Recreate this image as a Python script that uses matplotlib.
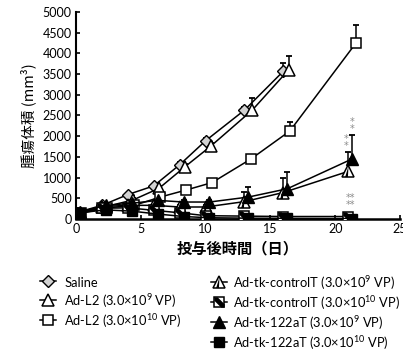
import matplotlib.pyplot as plt
import numpy as np

plt.rcParams['font.family'] = ['Lato', 'Noto Sans CJK JP', 'DejaVu Sans']
plt.rcParams['mathtext.fontset'] = 'custom'
plt.rcParams['mathtext.rm'] = 'Lato'

# data (days after injection, tumour volume mm3, upper error)
x_saline = [0, 2, 4, 6, 8, 10, 13, 16]
y_saline = [150, 330, 590, 800, 1310, 1890, 2630, 3570]
e_saline = [0, 20, 40, 50, 60, 60, 80, 200]

x_l2_9 = [0.3, 2.3, 4.4, 6.4, 8.4, 10.4, 13.6, 16.4]
y_l2_9 = [140, 300, 460, 740, 1260, 1760, 2630, 3600]
e_l2_9 = [0, 20, 40, 60, 60, 80, 290, 340]

x_l2_10 = [0.4, 2.4, 4.5, 6.5, 8.5, 10.5, 13.5, 16.5, 21.6]
y_l2_10 = [140, 270, 330, 530, 700, 880, 1450, 2125, 4250]
e_l2_10 = [0, 20, 30, 40, 50, 60, 60, 215, 440]

x_ct_9 = [0, 2, 4, 6, 8, 10, 13, 16, 21]
y_ct_9 = [150, 300, 330, 330, 290, 290, 420, 640, 1150]
e_ct_9 = [0, 20, 30, 40, 40, 40, 230, 350, 470]

x_ct_10 = [0, 2, 4, 6, 8, 10, 13, 16, 21]
y_ct_10 = [150, 260, 270, 210, 150, 80, 70, 60, 60]

x_aT_9 = [0.3, 2.3, 4.3, 6.3, 8.3, 10.3, 13.3, 16.3, 21.3]
y_aT_9 = [170, 330, 380, 450, 410, 410, 530, 730, 1450]
e_aT_9 = [0, 20, 30, 40, 40, 40, 240, 410, 580]

x_aT_10 = [0.3, 2.3, 4.3, 6.3, 8.3, 10.3, 13.3, 16.3, 21.3]
y_aT_10 = [150, 220, 190, 120, 60, 30, 20, 15, 10]

labels = ['Saline',
          'Ad-L2 (3.0×10$^{9}$ VP)',
          'Ad-L2 (3.0×10$^{10}$ VP)',
          'Ad-tk-controlT (3.0×10$^{9}$ VP)',
          'Ad-tk-controlT (3.0×10$^{10}$ VP)',
          'Ad-tk-122aT (3.0×10$^{9}$ VP)',
          'Ad-tk-122aT (3.0×10$^{10}$ VP)']

# diagonal stripe markers for the "controlT" groups
sq_band = [(-1, 1), (-0.35, 1), (1, -0.35), (1, -1), (0.35, -1), (-1, 0.35), (-1, 1)]
tri_band = [(0, 1), (-0.6, -1), (-0.1, -1), (0, 1)]

fig = plt.figure(figsize=(4.03, 3.6), dpi=100)
ax = fig.add_axes([76/403, 1 - 219/360, 324/403, 207/360])

lw = 1.1
ms = 7.5

def errs(x, y, e, z):
    ax.errorbar(x, y, yerr=[np.zeros(len(e)), e], fmt='none', ecolor='k',
                elinewidth=1.1, capsize=2.5, capthick=1.3, zorder=z)

errs(x_saline, y_saline, e_saline, 2)
errs(x_l2_9, y_l2_9, e_l2_9, 2)
errs(x_l2_10, y_l2_10, e_l2_10, 2)
errs(x_ct_9, y_ct_9, e_ct_9, 2)
errs(x_aT_9, y_aT_9, e_aT_9, 2)

h1, = ax.plot(x_saline, y_saline, '-D', color='k', lw=lw, ms=6.5, mfc='#d2d2d2', mec='k', mew=1.0, zorder=5)
h2, = ax.plot(x_l2_9, y_l2_9, '-^', color='k', lw=lw, ms=ms + 0.5, mfc='white', mec='k', mew=1.1, zorder=6)
h3, = ax.plot(x_l2_10, y_l2_10, '-s', color='k', lw=lw, ms=ms, mfc='white', mec='k', mew=1.1, zorder=7)
h4a, = ax.plot(x_ct_9, y_ct_9, '-^', color='k', lw=lw, ms=ms + 0.5, mfc='white', mec='k', mew=1.1, zorder=8)
h4b, = ax.plot(x_ct_9, y_ct_9, ls='none', marker=tri_band, ms=ms + 0.5, mfc='k', mew=0, zorder=8)
h5a, = ax.plot(x_ct_10, y_ct_10, '-s', color='k', lw=lw, ms=ms, mfc='white', mec='k', mew=1.1, zorder=9)
h5b, = ax.plot(x_ct_10, y_ct_10, ls='none', marker=sq_band, ms=ms, mfc='k', mew=0, zorder=9)
h6, = ax.plot(x_aT_9, y_aT_9, '-^', color='k', lw=lw, ms=ms + 0.5, mfc='k', mec='k', zorder=10)
h7, = ax.plot(x_aT_10, y_aT_10, '-s', color='k', lw=lw, ms=ms, mfc='k', mec='k', zorder=11)

# significance marks
star_kw = dict(color='#8c8c8c', fontsize=7, ha='center', va='center',
               linespacing=0.6, fontfamily='DejaVu Sans')
ax.text(20.85, 1850, '*\n*', **star_kw)
ax.text(21.3, 2250, '*\n*', **star_kw)
ax.text(21.2, 420, '**\n**', **star_kw)

ax.set_xlim(0, 25)
ax.set_ylim(0, 5000)
ax.set_xticks([0, 5, 10, 15, 20, 25])
ax.set_yticks(np.arange(0, 5001, 500))
ax.spines['top'].set_visible(False)
ax.spines['right'].set_visible(False)
ax.spines['left'].set_linewidth(1.5)
ax.spines['bottom'].set_linewidth(1.8)
ax.tick_params(direction='in', length=3, width=1.2, labelsize=9, pad=3)
for sp in ax.spines.values():
    sp.set_clip_on(False)

ax.set_xlabel('投与後時間（日）', fontsize=11, fontfamily='Noto Sans CJK JP',
              fontweight='bold', labelpad=4)
ax.set_ylabel('腫瘍体積 (mm³)', fontsize=10.5, fontfamily='Noto Sans CJK JP', labelpad=5)

leg_kw = dict(frameon=False, fontsize=9.3, handlelength=1.2, handleheight=1.55,
              labelspacing=0.15, borderpad=0, loc='upper left')
fig.legend([h1, h2, h3], labels[:3], bbox_to_anchor=(34/403, 1 - 268/360),
           handletextpad=0.65, **leg_kw)
fig.legend([(h4a, h4b), (h5a, h5b), h6, h7], labels[3:],
           bbox_to_anchor=(205/403, 1 - 268/360), handletextpad=0.45, **leg_kw)

fig.savefig('out.png', dpi=100)
